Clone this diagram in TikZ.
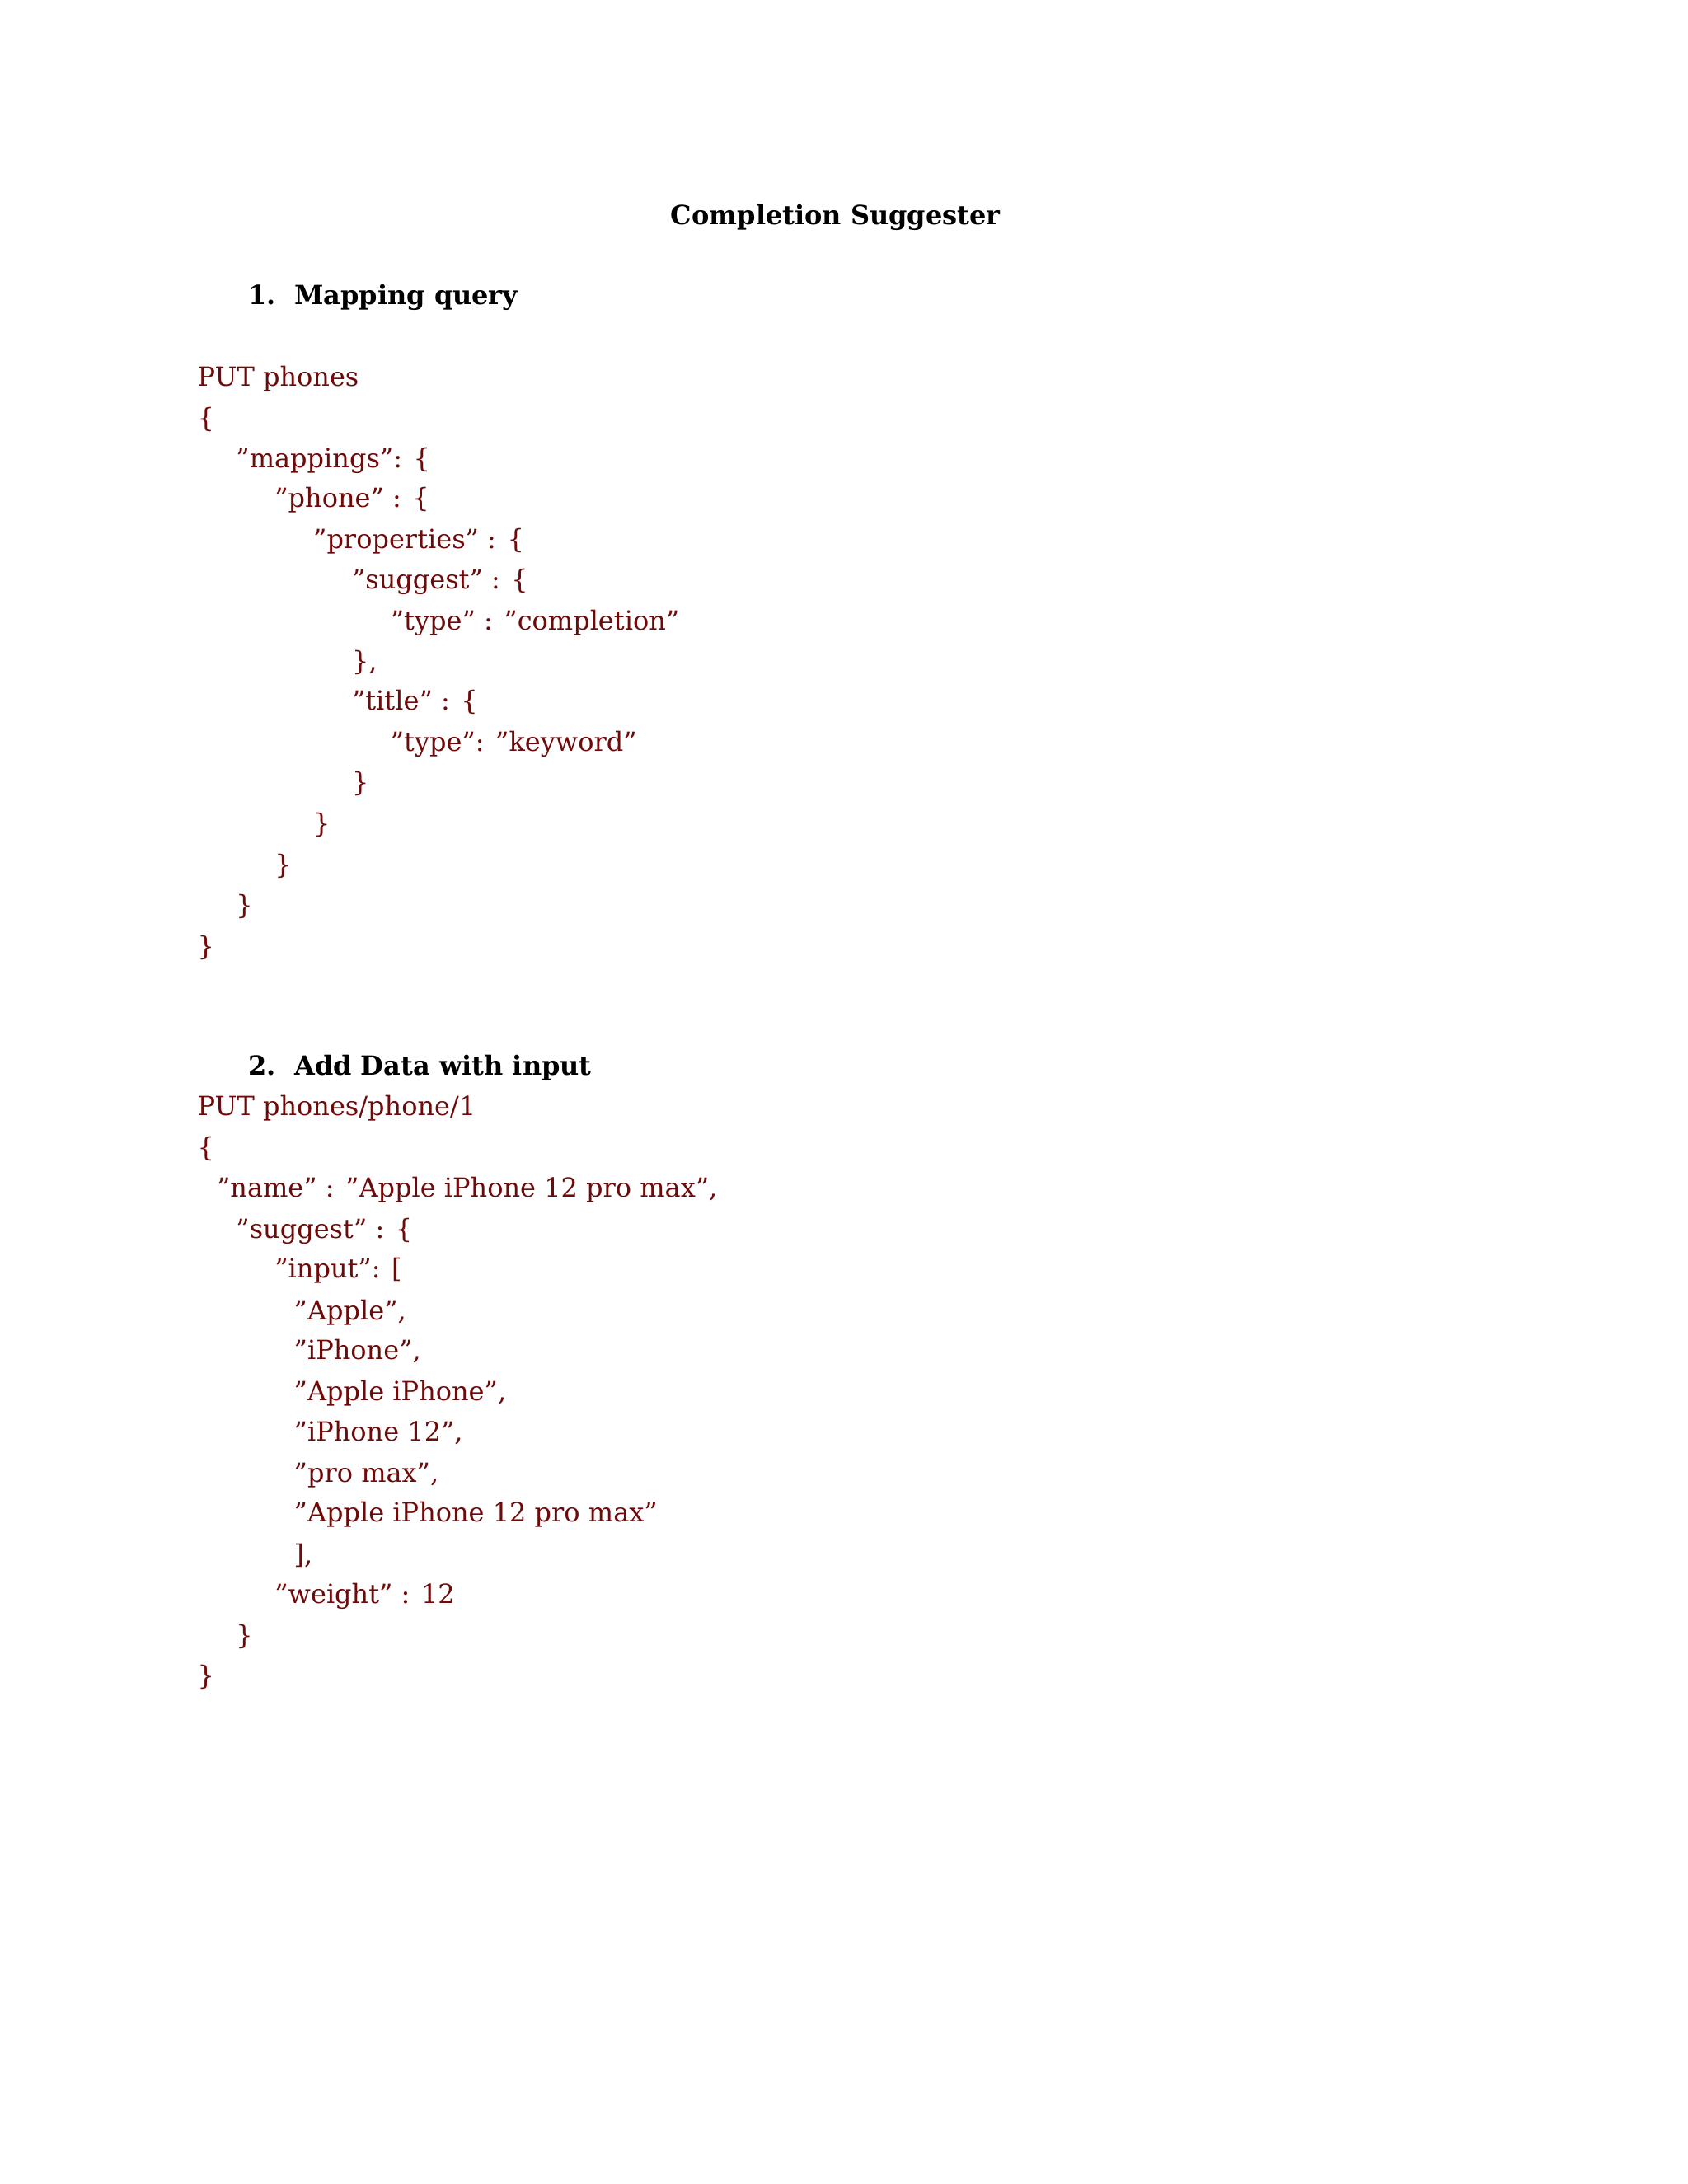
\documentclass[tikz,border=0pt]{standalone}
\usepackage{fontspec}
\setmainfont{DejaVu Serif}
\definecolor{code}{HTML}{6E0A0A}
\begin{document}
\begin{tikzpicture}[x=0.8366pt,y=-0.8366pt,
  cl/.style={anchor=base west,inner sep=0pt,text=code,font=\fontsize{16}{18}\selectfont},
  hd/.style={anchor=base west,inner sep=0pt,font=\fontsize{16}{18}\selectfont\bfseries}]
\useasboundingbox[fill=white] (0,0) rectangle (1224,1584);
\node[hd,anchor=base] (title) at (606,163) {Completion Suggester};
\node[hd] (h1) at (180,221) {1.\ \ Mapping query};
\node[cl] (a1) at (143,280) {PUT phones};
\node[cl] (a2) at (143,310) {\{};
\node[cl] (a3) at (171,339) {"mappings": \{};
\node[cl] (a4) at (199,368) {"phone" : \{};
\node[cl] (a5) at (227,398) {"properties" : \{};
\node[cl] (a6) at (255,427) {"suggest" : \{};
\node[cl] (a7) at (283,457) {"type" : "completion"};
\node[cl] (a8) at (255,486) {\},};
\node[cl] (a9) at (255,515) {"title" : \{};
\node[cl] (a10) at (283,545) {"type": "keyword"};
\node[cl] (a11) at (255,574) {\}};
\node[cl] (a12) at (227,604) {\}};
\node[cl] (a13) at (199,634) {\}};
\node[cl] (a14) at (171,663) {\}};
\node[cl] (a15) at (143,693) {\}};
\node[hd] (h2) at (180,780) {2.\ \ Add Data with input};
\node[cl] (b1) at (143,809) {PUT phones/phone/1};
\node[cl] (b2) at (143,839) {\{};
\node[cl] (b3) at (157,868) {"name" : "Apple iPhone 12 pro max",};
\node[cl] (b4) at (171,898) {"suggest" : \{};
\node[cl] (b5) at (199,927) {"input": [};
\node[cl] (b6) at (213,957) {"Apple",};
\node[cl] (b7) at (213,986) {"iPhone",};
\node[cl] (b8) at (213,1016) {"Apple iPhone",};
\node[cl] (b9) at (213,1045) {"iPhone 12",};
\node[cl] (b10) at (213,1075) {"pro max",};
\node[cl] (b11) at (213,1104) {"Apple iPhone 12 pro max"};
\node[cl] (b12) at (213,1134) {],};
\node[cl] (b13) at (199,1163) {"weight" : 12};
\node[cl] (b14) at (171,1193) {\}};
\node[cl] (b15) at (143,1222) {\}};
\end{tikzpicture}
\end{document}
